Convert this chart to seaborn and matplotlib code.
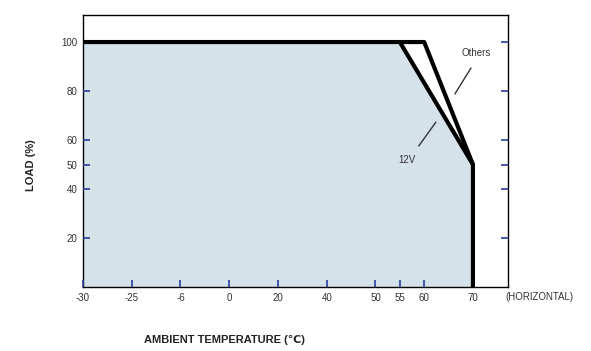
import numpy as np
import pandas as pd
import matplotlib
matplotlib.use("Agg")
import matplotlib.pyplot as plt
import seaborn as sns

# tick labels on the (non-uniform) temperature axis and their slot positions
temp_ticks = [-30, -25, -6, 0, 20, 40, 50, 55, 60, 70]
temp_labels = ["-30", "-25", "-6", "0", "20", "40", "50", "55", "60", "70"]
temp_slots = [0, 1, 2, 3, 4, 5, 6, 6.5, 7, 8]
load_ticks = [20, 40, 50, 60, 80, 100]

# derating curves (temperature, load %)
curve_12v_temp = [-30, 55, 70, 70]
curve_12v_load = [100, 100, 50, 0]
curve_oth_temp = [55, 60, 70]
curve_oth_load = [100, 100, 50]


def to_slot(t):
    return np.interp(t, temp_ticks, temp_slots)


df12 = pd.DataFrame({"x": to_slot(curve_12v_temp), "y": curve_12v_load})
dfo = pd.DataFrame({"x": to_slot(curve_oth_temp), "y": curve_oth_load})

sns.set_style("white")
plt.rcParams["font.family"] = ["Liberation Sans Narrow", "Liberation Sans", "DejaVu Sans"]

fig = plt.figure(figsize=(5.91, 3.51), dpi=100)
ax = fig.add_axes([0.1404, 0.1823, 0.7192, 0.7747])
ax.set_axisbelow(False)

# shaded operating area under the 12V curve
ax.fill_between(df12["x"], df12["y"], 0, color="#d5e2ea", lw=0, zorder=1)

# estimator=None so the two points at 70 are not averaged
sns.lineplot(data=df12, x="x", y="y", sort=False, estimator=None, ax=ax,
             color="black", lw=3, zorder=3)
sns.lineplot(data=dfo, x="x", y="y", sort=False, estimator=None, ax=ax,
             color="black", lw=3, zorder=3)

ax.set_xlim(0, 8.72)
ax.set_ylim(0, 111)

ax.set_xticks(temp_slots)
ax.set_xticklabels(temp_labels)
ax.set_yticks(load_ticks)
ax.set_yticklabels([str(v) for v in load_ticks])
ax.tick_params(axis="both", direction="in", length=5, width=1.2, color="#2b3a9c",
               labelsize=7, labelcolor="#333333", pad=4)
ax.tick_params(axis="y", right=True, left=True)
ax.tick_params(axis="x", bottom=True, top=False)

for sp in ax.spines.values():
    sp.set_color("black")
    sp.set_linewidth(1.0)

ax.set_xlabel("")
ax.set_ylabel("")

# annotations
ax.text(8.06, 95.5, "Others", fontsize=7, ha="center", va="center", color="#333333")
ax.plot([7.63, 7.96], [78.8, 89.4], color="#333333", lw=1)
ax.text(6.65, 51.8, "12V", fontsize=7, ha="center", va="center", color="#333333")
ax.plot([6.89, 7.24], [57.6, 67.3], color="#333333", lw=1)

fig.text(0.855, 0.153, "(HORIZONTAL)", fontsize=7, ha="left", va="center", color="#333333")
fig.text(0.38, 0.032, "AMBIENT TEMPERATURE (\u2103)", fontsize=8, fontweight="bold",
         ha="center", va="center", color="#222222")
fig.text(0.052, 0.53, "LOAD (%)", fontsize=8, fontweight="bold", rotation=90,
         ha="center", va="center", color="#222222")

fig.savefig("out.png", dpi=100)
